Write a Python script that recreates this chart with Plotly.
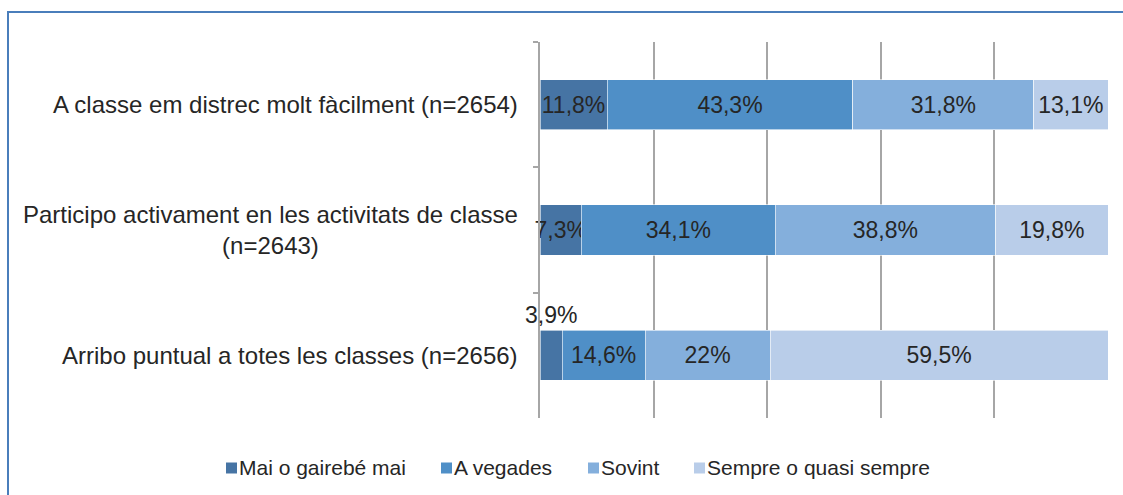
import plotly.graph_objects as go

# Survey items (top to bottom) and answer shares in percent
categories = [
    "A classe em distrec molt fàcilment (n=2654)",
    "Participo activament en les activitats de classe<br>(n=2643)",
    "Arribo puntual a totes les classes (n=2656)",
]
series_names = ["Mai o gairebé mai", "A vegades", "Sovint", "Sempre o quasi sempre"]
mai = [11.8, 7.3, 3.9]
a_vegades = [43.3, 34.1, 14.6]
sovint = [31.8, 38.8, 22.0]
sempre = [13.1, 19.8, 59.5]
series_values = [mai, a_vegades, sovint, sempre]
colors = ["#4674a4", "#4f8fc7", "#84afdc", "#b9cde9"]

TEXT = "#262626"
GRID = "#a6a6a6"
FONT = "Liberation Sans, Arial, sans-serif"

W, H = 1123, 495
ML, MR, MT, MB = 540, 15, 42, 77
PW, PH = W - ML - MR, H - MT - MB


def px_x(px):
    return (px - ML) / PW


def px_y(py):
    return (H - MB - py) / PH


def fmt(v):
    return f"{v:g}".replace(".", ",") + "%"


fig = go.Figure()

# Small segments whose label sits above the bar instead of inside it
outside = {(0, 2)}

for si, (name, vals, col) in enumerate(zip(series_names, series_values, colors)):
    texts = ["" if (si, ci) in outside else fmt(v) for ci, v in enumerate(vals)]
    fig.add_trace(go.Bar(
        name=name,
        y=categories,
        x=vals,
        orientation="h",
        marker=dict(color=col, line=dict(color="white", width=0.6)),
        text=texts,
        textposition="inside",
        insidetextanchor="middle",
        textangle=0,
        constraintext="none",
        insidetextfont=dict(family=FONT, size=23, color=TEXT),
        cliponaxis=False,
        showlegend=False,
        hoverinfo="skip",
    ))

annotations = []
for si, ci in outside:
    v = series_values[si][ci]
    offset = sum(series_values[k][ci] for k in range(si))
    annotations.append(dict(
        x=offset + v / 2, y=categories[ci], xref="x", yref="y",
        text=fmt(v), showarrow=False, yshift=40,
        font=dict(family=FONT, size=23, color=TEXT),
    ))

# Category labels, centred text block right-aligned against the axis
for cat in categories:
    annotations.append(dict(
        x=0, y=cat, xref="paper", yref="y", xanchor="right", yanchor="middle",
        xshift=-20, align="center", text=cat, showarrow=False,
        font=dict(family=FONT, size=24, color=TEXT),
    ))

# Legend row drawn as swatches and labels
shapes = []
legend_x = [226, 441, 588, 694]
legend_cy = 468
for name, col, lx in zip(series_names, colors, legend_x):
    shapes.append(dict(
        type="rect", xref="paper", yref="paper",
        x0=px_x(lx), x1=px_x(lx + 11),
        y0=px_y(legend_cy + 5.5), y1=px_y(legend_cy - 5.5),
        fillcolor=col, line=dict(width=0),
    ))
    annotations.append(dict(
        x=px_x(lx + 11), y=px_y(legend_cy), xref="paper", yref="paper",
        xanchor="left", yanchor="middle", text=name, showarrow=False,
        font=dict(family=FONT, size=21, color=TEXT),
    ))

# Outer frame of the chart area
shapes.append(dict(
    type="rect", xref="paper", yref="paper", layer="above",
    x0=px_x(8), x1=px_x(W + 20), y0=px_y(H + 20), y1=px_y(12),
    line=dict(color="#4a7ebb", width=2), fillcolor="rgba(0,0,0,0)",
))

fig.update_layout(
    width=W, height=H, autosize=False,
    margin=dict(l=ML, r=MR, t=MT, b=MB, pad=0),
    barmode="stack", bargap=0.6,
    plot_bgcolor="white", paper_bgcolor="white",
    font=dict(family=FONT, color=TEXT),
    annotations=annotations,
    shapes=shapes,
    xaxis=dict(
        range=[0, 100], tick0=0, dtick=20, showgrid=True, gridcolor=GRID,
        gridwidth=1.5, zeroline=False, showticklabels=False, ticks="",
        showline=False, fixedrange=True,
    ),
    yaxis=dict(
        type="category", categoryorder="array", categoryarray=categories,
        autorange="reversed", tickson="boundaries", ticks="outside",
        ticklen=5, tickwidth=1.5, tickcolor=GRID, showline=True,
        linecolor=GRID, linewidth=1.5, showticklabels=False, showgrid=False,
        zeroline=False, fixedrange=True,
    ),
)

fig.write_html("out.html")
